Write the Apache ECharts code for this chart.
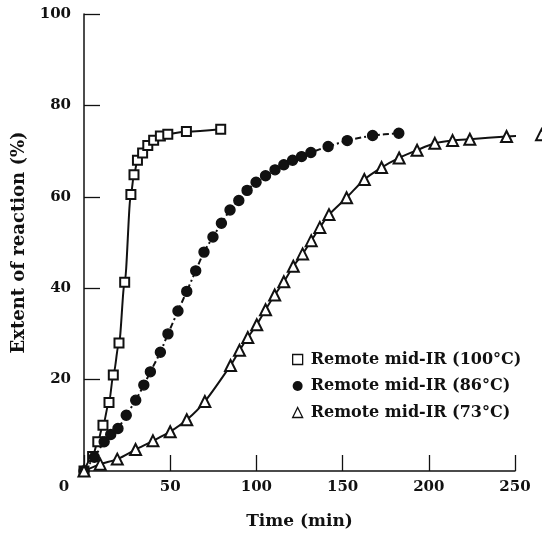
<!DOCTYPE html>
<html>
<head>
<meta charset="utf-8">
<script src="https://cdn.jsdelivr.net/npm/echarts@6/dist/echarts.min.js"></script>
<style>
  html, body { margin: 0; padding: 0; background: #fff; }
  #chart { width: 542px; height: 536px; }
</style>
</head>
<body>
<div id="chart"></div>
<script>
// Remote mid-IR, 100 C
const time100 = [0, 5, 8, 11, 14.5, 17, 20.3, 23.6, 27.2, 29, 31, 34, 37, 40.4, 44.3, 48.6, 59.4, 79.3];
const ext100 = [0, 3.2, 6.4, 10, 15, 21, 28, 41.3, 60.5, 64.8, 68, 69.6, 71.2, 72.4, 73.3, 73.7, 74.3, 74.8];

// Remote mid-IR, 86 C
const time86 = [0, 6, 11.7, 15.5, 19.7, 24.5, 30, 34.7, 38.5, 44.3, 48.7, 54.5, 59.6, 64.8, 69.6, 74.8, 79.7, 84.7, 89.8, 94.6, 99.8, 105.3, 110.8, 115.9, 121, 126.2, 131.6, 141.6, 152.7, 167.4, 182.6];
const ext86 = [0, 3, 6.4, 8, 9.3, 12.2, 15.5, 18.8, 21.7, 26, 30, 35, 39.3, 43.8, 47.9, 51.2, 54.2, 57.1, 59.2, 61.4, 63.2, 64.6, 65.9, 67, 68, 68.8, 69.7, 71, 72.3, 73.4, 73.9];

// Remote mid-IR, 73 C
const time73 = [0, 9.4, 19.3, 29.9, 40, 50, 59.6, 70.1, 85, 90.2, 95, 100.2, 105.3, 110.6, 115.9, 121.4, 126.8, 131.8, 136.8, 142.1, 152.3, 162.6, 172.6, 182.8, 193.2, 203.5, 213.8, 223.8, 245.1, 265.4];
const ext73 = [0, 1.5, 2.6, 4.7, 6.6, 8.6, 11.2, 15.2, 23.1, 26.4, 29.2, 32, 35.3, 38.5, 41.4, 44.8, 47.5, 50.4, 53.3, 56.1, 59.8, 63.8, 66.4, 68.5, 70.2, 71.7, 72.3, 72.6, 73.2, 73.6];

const xTicks = [0, 50, 100, 150, 200, 250];
const yTicks = [0, 20, 40, 60, 80, 100];

const names = ['Remote mid-IR (100°C)', 'Remote mid-IR (86°C)', 'Remote mid-IR (73°C)'];

const font = 'DejaVu Serif';
const ink = '#111';

const pairs = (xs, ys) => xs.map((x, i) => [x, ys[i]]);

const chart = echarts.init(document.getElementById('chart'));

const baseSeries = {
  type: 'line',
  smooth: 0.25,
  clip: false,
  symbolSize: 9,
  itemStyle: { color: ink, borderColor: ink, borderWidth: 1.4 },
  emphasis: { disabled: true }
};

chart.setOption({
  animation: false,
  backgroundColor: '#fff',
  grid: { left: 84, right: 27, top: 14, bottom: 65 },
  textStyle: { fontFamily: font, color: ink },
  legend: {
    orient: 'vertical',
    left: 287,
    top: 345,
    itemWidth: 10,
    itemHeight: 10,
    itemGap: 7.5,
    selectedMode: false,
    textStyle: { fontFamily: font, fontSize: 16, fontWeight: 'bold', color: ink, lineHeight: 19, padding: [0, 0, 0, 3] },
    data: [
      { name: names[0], icon: 'rect', itemStyle: { color: '#fff', borderColor: ink, borderWidth: 1.3 } },
      { name: names[1], icon: 'circle', itemStyle: { color: ink, borderWidth: 0 } },
      { name: names[2], icon: 'triangle', itemStyle: { color: '#fff', borderColor: ink, borderWidth: 1.3 } }
    ]
  },
  xAxis: {
    type: 'value',
    min: xTicks[0],
    max: xTicks[xTicks.length - 1],
    interval: 50,
    name: 'Time (min)',
    nameLocation: 'middle',
    nameGap: 42,
    nameTextStyle: { fontFamily: font, fontSize: 17, fontWeight: 'bold', color: ink },
    axisLine: { lineStyle: { color: ink, width: 1.5 } },
    axisTick: { inside: true, length: 16, lineStyle: { color: ink, width: 1.3 } },
    splitLine: { show: false },
    axisLabel: {
      margin: 9,
      fontFamily: font,
      fontSize: 15,
      fontWeight: 'bold',
      color: ink,
      formatter: v => (v === 0 ? '{z|0}' : String(v)),
      rich: { z: { fontFamily: font, fontSize: 15, fontWeight: 'bold', color: ink, padding: [0, 40, 0, 0] } }
    }
  },
  yAxis: {
    type: 'value',
    min: yTicks[0],
    max: yTicks[yTicks.length - 1],
    interval: 20,
    name: 'Extent of reaction (%)',
    nameLocation: 'middle',
    nameGap: 52,
    nameTextStyle: { fontFamily: font, fontSize: 18, fontWeight: 'bold', color: ink },
    axisLine: { show: true, lineStyle: { color: ink, width: 1.5 } },
    axisTick: { show: true, inside: true, length: 16, lineStyle: { color: ink, width: 1.3 } },
    splitLine: { show: false },
    axisLabel: {
      margin: 13,
      showMinLabel: false,
      fontFamily: font,
      fontSize: 15,
      fontWeight: 'bold',
      color: ink
    }
  },
  series: [
    Object.assign({}, baseSeries, {
      name: names[0],
      symbol: 'emptyRect',
      smooth: 0.3,
      smoothMonotone: 'x',
      data: pairs(time100, ext100),
      lineStyle: { color: ink, width: 2 }
    }),
    Object.assign({}, baseSeries, {
      name: names[1],
      symbol: 'circle',
      symbolSize: 10,
      data: pairs(time86, ext86),
      lineStyle: { color: ink, width: 2, type: [6, 3, 2, 3] }
    }),
    Object.assign({}, baseSeries, {
      name: names[2],
      symbol: 'emptyTriangle',
      symbolSize: 11,
      data: pairs(time73, ext73),
      lineStyle: { color: ink, width: 2 }
    })
  ]
});
</script>
</body>
</html>
